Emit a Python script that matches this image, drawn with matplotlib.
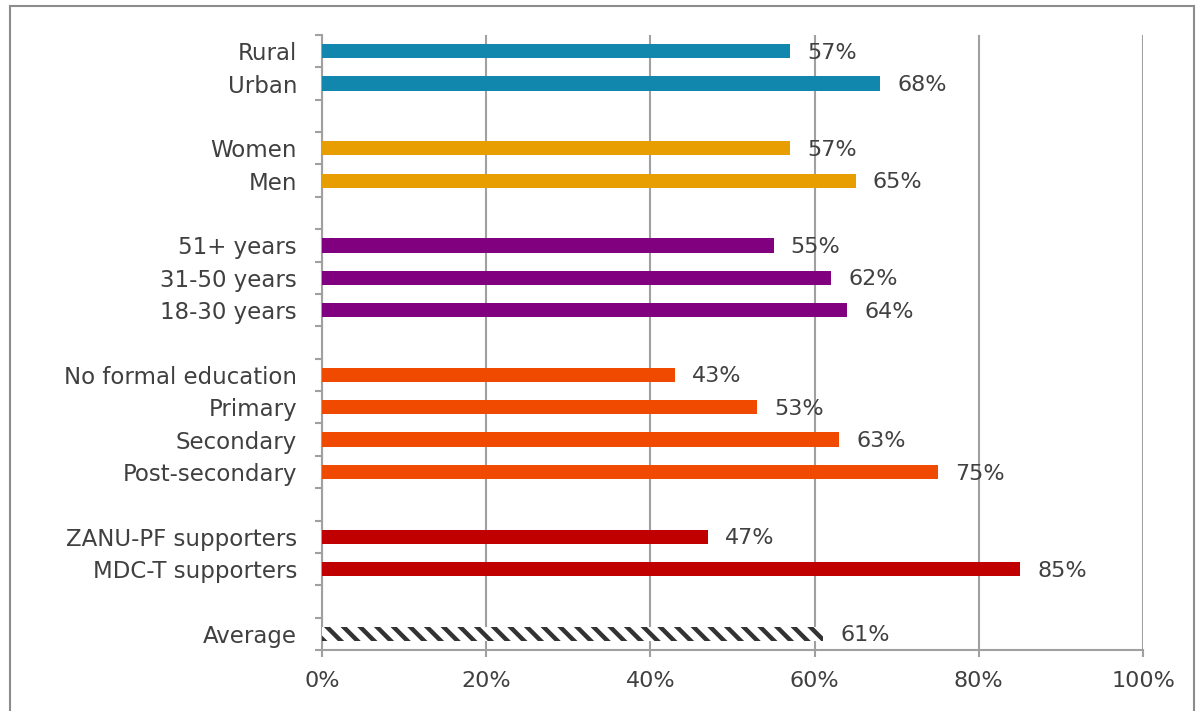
import matplotlib
matplotlib.use("Agg")
import matplotlib.pyplot as plt
from matplotlib.patches import Rectangle

plt.rcParams['font.family'] = ['DejaVu Sans']
plt.rcParams['hatch.linewidth'] = 3.2

# groups, top to bottom (None = empty slot between groups)
labels = ['Rural', 'Urban', None,
          'Women', 'Men', None,
          '51+ years', '31-50 years', '18-30 years', None,
          'No formal education', 'Primary', 'Secondary', 'Post-secondary', None,
          'ZANU-PF supporters', 'MDC-T supporters', None,
          'Average']
values = [57, 68, None,
          57, 65, None,
          55, 62, 64, None,
          43, 53, 63, 75, None,
          47, 85, None,
          61]
colors = ['#1287ad', '#1287ad', None,
          '#e89e00', '#e89e00', None,
          '#800080', '#800080', '#800080', None,
          '#f04a00', '#f04a00', '#f04a00', '#f04a00', None,
          '#c00000', '#c00000', None,
          'hatch']

txt = '#404040'
grid = '#a0a0a0'
fs = 16

fig = plt.figure(figsize=(12, 7.11), dpi=100)
ax = fig.add_axes([322/1200, 1-650/711, (1143-322)/1200, (650-35)/711])

n = len(labels)
ypos, ylab = [], []
for i, (lab, v, c) in enumerate(zip(labels, values, colors)):
    if lab is None:
        continue
    ypos.append(i)
    ylab.append(lab)
    if c == 'hatch':
        ax.barh(i, v, height=0.44, color='white', edgecolor='#333333',
                hatch='\\\\', linewidth=0, zorder=3)
    else:
        ax.barh(i, v, height=0.44, color=c, linewidth=0, zorder=3)
    ax.text(v + 2.1, i + 0.05, f'{v}%', va='center', ha='left',
            fontsize=fs, color=txt, zorder=4)

ax.set_ylim(n - 0.5, -0.5)
ax.set_xlim(0, 100)
ax.set_xticks(range(0, 101, 20))
ax.set_xticklabels([f'{t}%' for t in range(0, 101, 20)])
ax.set_yticks(ypos)
ax.set_yticklabels(ylab)
ax.set_yticks([i - 0.5 for i in range(n + 1)], minor=True)

ax.tick_params(axis='y', which='major', length=0, pad=18, labelsize=16.5, labelcolor=txt)
ax.tick_params(axis='y', which='minor', length=5, width=1.5, color=grid, direction='out')
ax.tick_params(axis='x', which='major', length=5, width=1.5, color=grid,
               pad=10, labelsize=fs, labelcolor=txt)

ax.xaxis.grid(True, color=grid, linewidth=1.5, zorder=0)
ax.set_axisbelow(True)
for s in ['top', 'right']:
    ax.spines[s].set_visible(False)
for s in ['left', 'bottom']:
    ax.spines[s].set_color(grid)
    ax.spines[s].set_linewidth(1.5)

# outer frame of the chart area
fig.patches.append(Rectangle((10/1200, -0.05), (1194-10)/1200, 1.05 - 6/711,
                             transform=fig.transFigure, fill=False,
                             edgecolor='#8c8c8c', linewidth=1.5))

fig.savefig('out.png', dpi=100)
